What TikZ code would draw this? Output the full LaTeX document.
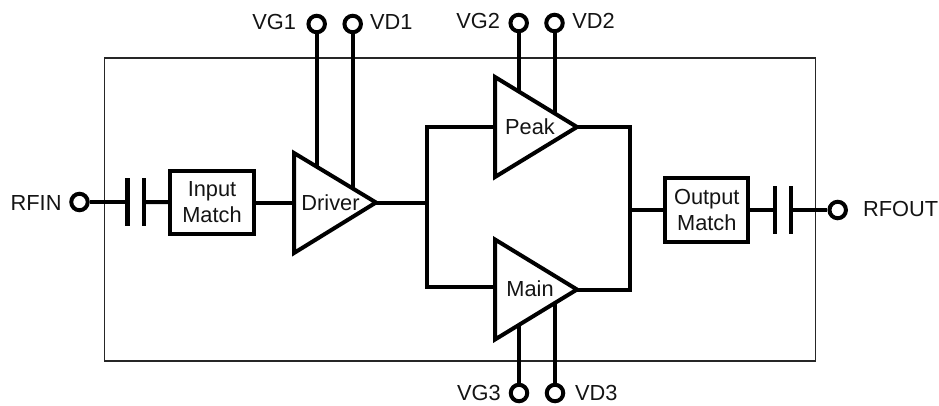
\documentclass[tikz,border=0pt]{standalone}
\usepackage{fontspec}
\setmainfont{Liberation Sans}
\begin{document}
\begin{tikzpicture}[x=1pt,y=-1pt,
  txt/.style={inner sep=0pt,outer sep=0pt,font=\fontsize{21.8}{26.7}\selectfont,text=black!92},
  wire/.style={line width=4pt,line join=miter,line cap=butt},
  amp/.style={line width=4pt,line join=miter,fill=none},
  term/.style={circle,draw,line width=4pt,minimum size=16.5pt,inner sep=0pt,outer sep=2pt},
  plate/.style={rectangle,fill=black,minimum width=4.4pt,minimum height=48pt,inner sep=0pt,outer sep=0pt},
  mbox/.style={rectangle,draw,line width=4pt,txt,align=center,outer sep=0pt},
  shell/.style={line width=1.5pt,draw=black!85}]
\useasboundingbox (0,0) rectangle (939,405);
% package outline
\coordinate (sa) at (104.5,58);
\coordinate (sb) at (815.5,361);
\draw[shell] (sa) rectangle (sb);
% terminals
\node[term] (rfin) at (79.5,202) {};
\node[term] (rfout) at (837.7,210) {};
\node[term] (vg1) at (316.7,24) {};
\node[term] (vd1) at (352.7,24) {};
\node[term] (vg2) at (518.7,23) {};
\node[term] (vd2) at (554.5,23) {};
\node[term] (vg3) at (519,393) {};
\node[term] (vd3) at (555,393) {};
% labels
\node[txt,anchor=base east] (lrfin) at (61.5,210) {RFIN};
\node[txt,anchor=base west] (lrfout) at (863,216.7) {RFOUT};
\node[txt,anchor=base east] (lvg1) at (296,29.3) {VG1};
\node[txt,anchor=base west] (lvd1) at (370,29.3) {VD1};
\node[txt,anchor=base east] (lvg2) at (500,28.7) {VG2};
\node[txt,anchor=base west] (lvd2) at (572.3,28.7) {VD2};
\node[txt,anchor=base east] (lvg3) at (500.7,400) {VG3};
\node[txt,anchor=base west] (lvd3) at (575,400) {VD3};
% capacitors
\node[plate] (c1a) at (127.5,202) {};
\node[plate] (c1b) at (144,202) {};
\node[plate] (c2a) at (774.8,210) {};
\node[plate] (c2b) at (790.8,210) {};
% match boxes
\node[mbox,minimum width=84pt,minimum height=63pt] (imatch) at (212,202.2) {Input\\Match};
\node[mbox,minimum width=83pt,minimum height=63.4pt] (omatch) at (706.8,210) {Output\\Match};
% amplifiers
\coordinate (d1) at (294,153); \coordinate (d2) at (294,253); \coordinate (dt) at (376,202.5); \coordinate (di) at (294,202.5);
\coordinate (p1) at (495,77); \coordinate (p2) at (495,177); \coordinate (pt) at (577,127); \coordinate (pi) at (495,127);
\coordinate (m1) at (495,239.5); \coordinate (m2) at (495,339.5); \coordinate (mt) at (577,289.5); \coordinate (mi) at (495,287);
\draw[amp] (d1) -- (dt) -- (d2) -- cycle;
\draw[amp] (p1) -- (pt) -- (p2) -- cycle;
\draw[amp] (m1) -- (mt) -- (m2) -- cycle;
\node[txt,anchor=base] (ldrv) at (330.5,210.7) {Driver};
\node[txt,anchor=base] (lpk) at (530,134.7) {Peak};
\node[txt,anchor=base] (lmn) at (530,296.7) {Main};
% lead ends on the amplifiers
\coordinate (avg1) at (316.7,167);
\coordinate (avd1) at (352.7,189.5);
\coordinate (avg2) at (518.7,91);
\coordinate (avd2) at (554.5,113.5);
\coordinate (avg3) at (519,325);
\coordinate (avd3) at (555,302);
% buses
\coordinate (jin) at (427,202.5);
\coordinate (jta) at (427,127);
\coordinate (jba) at (427,287);
\coordinate (jtb) at (630,127);
\coordinate (jbb) at (630,289.5);
\coordinate (jout) at (630,210);
% connectors
\draw[wire] (rfin) -- (c1a);
\draw[wire] (c1b) -- (imatch);
\draw[wire] (imatch.east |- di) -- (di);
\draw[wire] (dt) -- (jin);
\draw[wire] (pi) -- (jta) -- (jba) -- (mi);
\draw[wire] (pt) -- (jtb) -- (jbb) -- (mt);
\draw[wire] (jout) -- (omatch);
\draw[wire] (omatch) -- (c2a);
\draw[wire] (c2b) -- (rfout);
\draw[wire] (vg1) -- (avg1);
\draw[wire] (vd1) -- (avd1);
\draw[wire] (vg2) -- (avg2);
\draw[wire] (vd2) -- (avd2);
\draw[wire] (vg3) -- (avg3);
\draw[wire] (vd3) -- (avd3);
\end{tikzpicture}
\end{document}
